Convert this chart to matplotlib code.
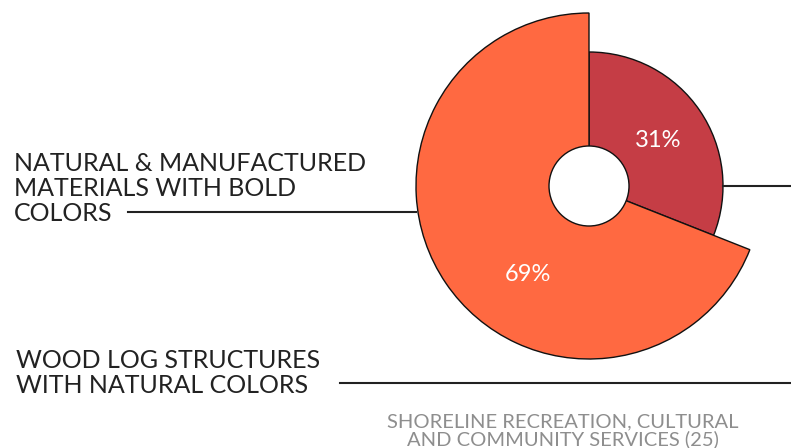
import matplotlib.pyplot as plt
from matplotlib.patches import Circle
import numpy as np

# data
labels = ["WOOD LOG STRUCTURES\nWITH NATURAL COLORS",
          "NATURAL & MANUFACTURED\nMATERIALS WITH BOLD\nCOLORS"]
shares = [31, 69]
colors = ["#C53D45", "#FF6941"]
radii = [134, 173]
caption = "SHORELINE RECREATION, CULTURAL\nAND COMMUNITY SERVICES (25)"

W, H = 791, 448
cx, cy = 589, H - 186

plt.rcParams['font.family'] = ['Lato', 'DejaVu Sans']

fig = plt.figure(figsize=(W / 100, H / 100), dpi=100)
ax = fig.add_axes([0, 0, 1, 1])

wedges, _ = ax.pie(shares, colors=colors, startangle=90, counterclock=False,
                   center=(cx, cy), radius=max(radii),
                   wedgeprops=dict(edgecolor="#111111", linewidth=1))
for w, r in zip(wedges, radii):
    w.set_radius(r)

# hole
ax.add_patch(Circle((cx, cy), 40, facecolor="white", edgecolor="#111111", lw=1, zorder=5))

# percent labels (angle, distance from centre, baseline)
pct_pos = [(29.5, 79), (-122.7, 113)]
for s, (ang, d) in zip(shares, pct_pos):
    a = np.radians(ang)
    ax.text(cx + d * np.cos(a), cy + d * np.sin(a), f"{s}%", color="white",
            fontsize=17, ha="center", va="baseline", zorder=6)

# leader lines
ax.plot([cx + radii[0], W], [cy, cy], color="#222222", lw=1.5)
ax.plot([128, cx - radii[1]], [H - 212, H - 212], color="#222222", lw=1.5)
ax.plot([340, W], [H - 383, H - 383], color="#222222", lw=1.5)

# category labels
ax.text(14, H - 221, labels[1], fontsize=18, color="#222222", ha="left", va="baseline",
        linespacing=1.11)
ax.text(16, H - 393, labels[0], fontsize=18, color="#222222", ha="left", va="baseline",
        linespacing=1.11)

ax.text(563, H - 445, caption, fontsize=14.5, color="#8e8e8e", ha="center", va="baseline",
        linespacing=0.97)

ax.set_xlim(0, W)
ax.set_ylim(0, H)
ax.set_aspect("equal")
ax.axis("off")

fig.savefig("out.png", dpi=100)
